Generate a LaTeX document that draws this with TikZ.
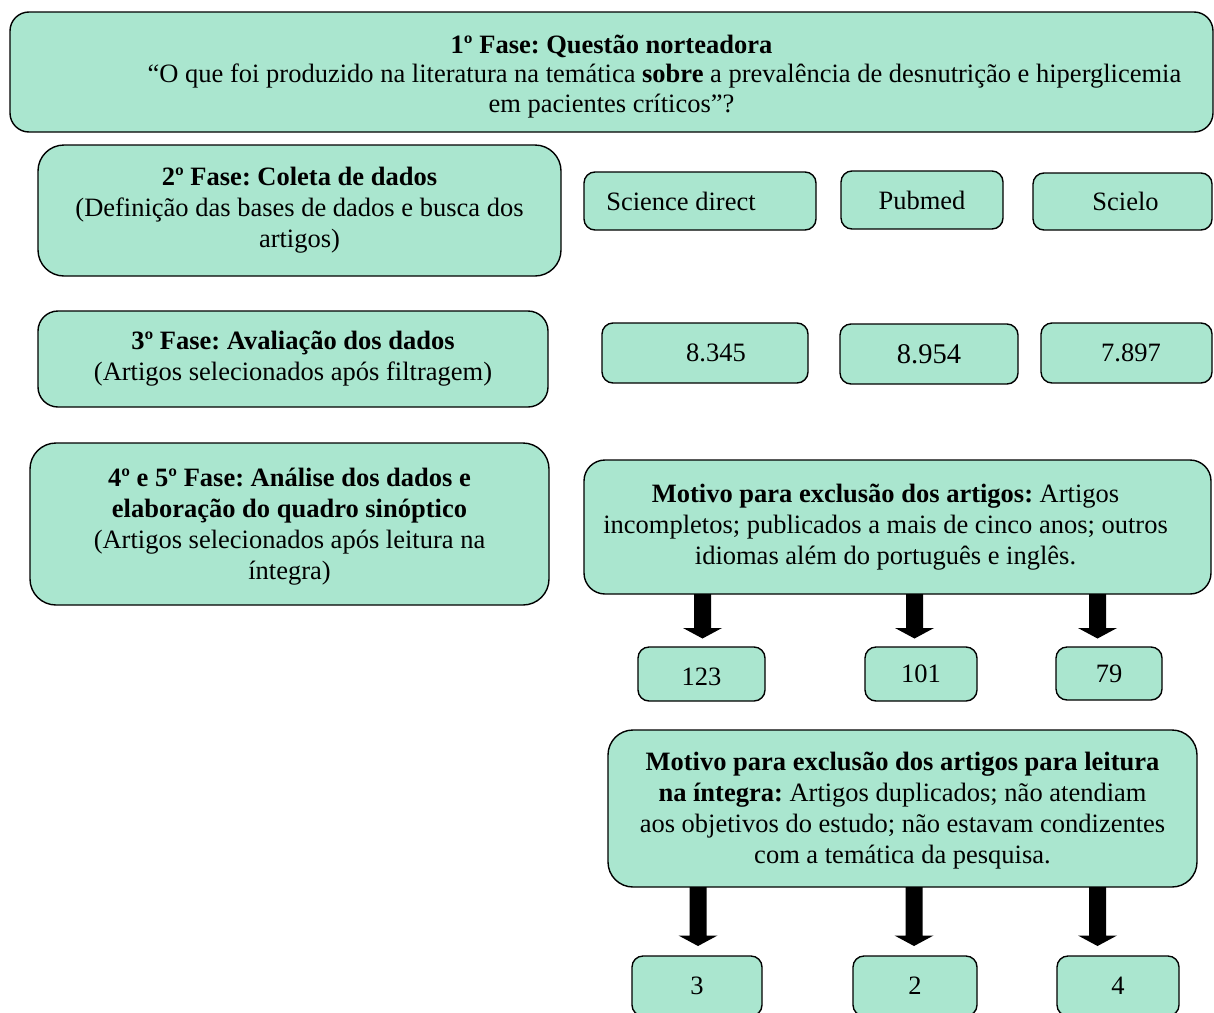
\documentclass[tikz,border=0pt]{standalone}
\usepackage{fontspec}
\setmainfont{Liberation Serif}
\frenchspacing
\definecolor{boxgreen}{RGB}{170,230,207}
\newcommand\fatarrow[4]{%
  \coordinate (#1) at (#2,#4);
  \fill[black] (#2-8.5,#3) -- (#2-8.5,#4-10.5) -- (#2-19.5,#4-10.5) -- (#1)
    -- (#2+19.5,#4-10.5) -- (#2+8.5,#4-10.5) -- (#2+8.5,#3) -- cycle;}
\newcommand\lowerby[2]{\raisebox{-#1}[\height][\depth]{#2}}
\tikzset{
  basebox/.style={draw=black, line width=1.4pt, fill=boxgreen, inner sep=0pt,
    font=\fontsize{26.5}{31}\selectfont\frenchspacing},
  bigbox/.style={basebox, rounded corners=22pt},
  smallbox/.style={basebox, rounded corners=11pt},
}
\begin{document}
\begin{tikzpicture}[x=1pt,y=-1pt]
\useasboundingbox (0,0) rectangle (1214,1012);
\clip (0,0) rectangle (1214,1012);

% Phase 1
\node[bigbox, rounded corners=19pt, minimum width=1203pt, minimum height=120pt,
  font=\fontsize{26.5}{29.5}\selectfont\frenchspacing] (f1) at (611.5,72)
  {\lowerby{5pt}{\begin{tabular}{@{}c@{}}\bfseries 1º Fase: Questão norteadora\\
   \hspace*{106pt}“O que foi produzido na literatura na temática \textbf{sobre} a prevalência de desnutrição e hiperglicemia\\
   em pacientes críticos”?\end{tabular}}};

% Phase 2
\node[bigbox, rounded corners=26pt, minimum width=523pt, minimum height=131pt] (f2) at (299.5,210.5)
  {\begin{tabular}{@{}c@{}}\bfseries 2º Fase: Coleta de dados\\
   (Definição das bases de dados e busca dos\\ artigos)\end{tabular}};

\node[smallbox, minimum width=232pt, minimum height=58pt] (sd) at (700,201) {Science direct\hspace*{38pt}};
\node[smallbox, minimum width=162pt, minimum height=58pt] (pm) at (922,200) {Pubmed};
\node[smallbox, minimum width=179pt, minimum height=57pt] (sc) at (1122.5,201.5) {\hspace*{6pt}Scielo};

% Phase 3
\node[bigbox, rounded corners=20pt, minimum width=510pt, minimum height=96pt] (f3) at (293,359)
  {\begin{tabular}{@{}c@{}}\bfseries 3º Fase: Avaliação dos dados\\
   (Artigos selecionados após filtragem)\end{tabular}};

\node[smallbox, minimum width=206pt, minimum height=60pt] (n1) at (705,353) {\hspace*{22pt}8.345};
\node[smallbox, minimum width=178pt, minimum height=60pt, font=\fontsize{28.5}{31}\selectfont] (n2) at (929,354) {8.954};
\node[smallbox, minimum width=171pt, minimum height=60pt] (n3) at (1126.5,353) {\hspace*{9pt}7.897};

% Phase 4/5
\node[bigbox, rounded corners=26pt, minimum width=519pt, minimum height=162pt] (f4) at (289.5,524)
  {\lowerby{2.5pt}{\begin{tabular}{@{}c@{}}\bfseries 4º e 5º Fase: Análise dos dados e\\
   \bfseries elaboração do quadro sinóptico\\
   (Artigos selecionados após leitura na\\ íntegra)\end{tabular}}};

% Exclusion 1
\node[bigbox, rounded corners=21pt, minimum width=627pt, minimum height=134pt] (m1) at (897.5,527)
  {\begin{tabular}{@{}c@{}}\textbf{Motivo para exclusão dos artigos:} Artigos\\
   incompletos; publicados a mais de cinco anos; outros\\
   idiomas além do português e inglês.\end{tabular}\hspace*{24pt}};

\fatarrow{a1}{702.5}{594}{638.5}
\fatarrow{a2}{914.5}{594}{638.5}
\fatarrow{a3}{1097.5}{594}{638.5}

\node[smallbox, minimum width=127pt, minimum height=54pt] (r1) at (701.5,674) {\lowerby{2.5pt}{123}};
\node[smallbox, minimum width=112pt, minimum height=54pt] (r2) at (921,674) {101};
\node[smallbox, minimum width=106pt, minimum height=53pt] (r3) at (1109,673.5) {79};

% Exclusion 2
\node[bigbox, rounded corners=25pt, minimum width=589pt, minimum height=157pt] (m2) at (902.5,808.5)
  {\lowerby{2pt}{\begin{tabular}{@{}c@{}}\textbf{Motivo para exclusão dos artigos para leitura}\\
   \textbf{na íntegra:} Artigos duplicados; não atendiam\\
   aos objetivos do estudo; não estavam condizentes\\
   com a temática da pesquisa.\end{tabular}}};

\fatarrow{b1}{698}{887}{946}
\fatarrow{b2}{914}{887}{946}
\fatarrow{b3}{1097.5}{887}{946}

\node[smallbox, minimum width=130pt, minimum height=60pt] (s1) at (697,986) {3};
\node[smallbox, minimum width=124pt, minimum height=60pt] (s2) at (915,986) {2};
\node[smallbox, minimum width=122pt, minimum height=60pt] (s3) at (1118,986) {4};
\end{tikzpicture}
\end{document}
